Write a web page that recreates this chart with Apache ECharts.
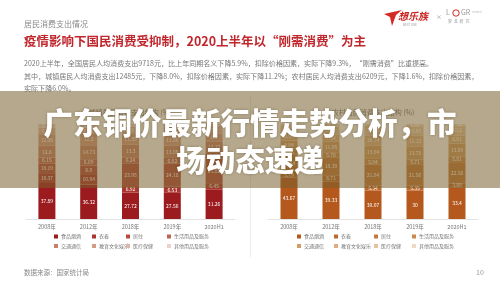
<!DOCTYPE html>
<html><head><meta charset="utf-8">
<script src="https://cdn.jsdelivr.net/npm/echarts@6/dist/echarts.min.js"></script>
<style>html,body{margin:0;padding:0;background:#fff}#c{width:500px;height:281px}</style>
</head><body><div id="c"></div>
<script>
const categories = ['2008年','2012年','2018年','2019年','2020H1'];
const seriesNames = ['食品烟酒','衣着','居住','生活用品及服务','交通通信','教育文化娱乐','医疗保健','其他用品及服务'];
// 城镇居民消费支出结构 (%)
const urbanFood      = [37.89, 36.32, 27.72, 27.56, 31.26];
const urbanClothing  = [10.37, 10.94, 6.92, 6.53, 6.45];
const urbanHousing   = [10.19, 8.9, 23.95, 24.18, 25.82];
const urbanHousehold = [6.15, 6.69, 6.24, 6.02, 5.95];
const urbanTransport = [12.6, 14.73, 13.3, 13.08, 12.17];
const urbanEducation = [12.08, 12.2, 11.39, 11.86, 8.3];
const urbanHealth    = [6.99, 6.38, 7.8, 8.09, 7.9];
const urbanOther     = [3.72, 3.89, 2.68, 2.68, 2.15];
// 农村居民消费支出结构 (%)
const ruralFood      = [43.67, 39.33, 30.07, 30, 33.40];
const ruralClothing  = [5.79, 6.71, 5.34, 5.35, 3.89];
const ruralHousing   = [18.54, 18.39, 21.94, 21.56, 22.56];
const ruralHousehold = [4.75, 5.78, 5.94, 5.71, 5.81];
const ruralTransport = [9.84, 11.05, 13.94, 13.78, 13.69];
const ruralEducation = [8.59, 7.54, 10.74, 11.12, 8.61];
const ruralHealth    = [6.72, 8.70, 10.23, 10.66, 10.2];
const ruralOther     = [2.1, 2.5, 1.8, 1.81, 1.74];

const urbanData = [urbanFood, urbanClothing, urbanHousing, urbanHousehold, urbanTransport, urbanEducation, urbanHealth, urbanOther];
const ruralData = [ruralFood, ruralClothing, ruralHousing, ruralHousehold, ruralTransport, ruralEducation, ruralHealth, ruralOther];
const urbanColors = ['#9b1b1f','#ab3530','#b54c3e','#be6452','#c9806b','#d49b86','#dfb6a5','#ebd3c8'];
const ruralColors = ['#b4581d','#bc692b','#c4793a','#cb8a4c','#d39c64','#dcaf80','#e5c3a0','#eed9c2'];

const FONT = '"Noto Sans CJK SC","Noto Sans",sans-serif';
const chart = echarts.init(document.getElementById('c'), null, {renderer:'canvas'});

const series = [];
function addSeries(dataSets, colors, idx, stack){
  dataSets.forEach((d, i) => {
    series.push({
      type:'bar', name: seriesNames[i], stack: stack, data: d,
      xAxisIndex: idx, yAxisIndex: idx, barWidth: 17,
      itemStyle:{color: colors[i]},
      label:{show:true, position:'inside', color:'#fff', fontSize:5, fontFamily:FONT},
      emphasis:{disabled:true}
    });
  });
}
addSeries(urbanData, urbanColors, 0, 'u');
addSeries(ruralData, ruralColors, 1, 'r');

function legends(colors, xs){
  const out = [];
  for (let c = 0; c < 4; c++){
    out.push({
      orient:'vertical', left: xs[c], top: 234, padding:0,
      itemWidth:4, itemHeight:4, itemGap:4.5, icon:'rect', selectedMode:false,
      textStyle:{fontSize:5, color:'#777', fontFamily:FONT, padding:[0,0,0,-2]},
      data:[{name:seriesNames[c], itemStyle:{color:colors[c]}},
            {name:seriesNames[c+4], itemStyle:{color:colors[c+4]}}]
    });
  }
  return out;
}

const axisCommon = {
  type:'category', data: categories,
  axisLine:{lineStyle:{color:'#e3e3e3'}}, axisTick:{show:false},
  axisLabel:{fontSize:5.5, color:'#777', margin:5, fontFamily:FONT}
};

chart.setOption({
  animation:false,
  textStyle:{fontFamily:FONT},
  title:[
    {text:'居民消费支出情况', left:19, top:15, textStyle:{fontSize:8, color:'#888', fontWeight:'normal', fontFamily:FONT}},
    {text:'疫情影响下国民消费受抑制，2020上半年以“刚需消费”为主', left:19, top:30, textStyle:{fontSize:12.5, color:'#c0272d', fontWeight:'bold', fontFamily:FONT}},
    {text:'2020上半年，全国居民人均消费支出9718元，比上年同期名义下降5.9%，扣除价格因素，实际下降9.3%，“刚需消费”比重提高。', left:19, top:55, textStyle:{fontSize:7.05, color:'#777', fontWeight:'normal', fontFamily:FONT}},
    {text:'其中，城镇居民人均消费支出12485元，下降8.0%，扣除价格因素，实际下降11.2%；农村居民人均消费支出6209元，下降1.6%，扣除价格因素，', left:19, top:67.5, textStyle:{fontSize:7.05, color:'#777', fontWeight:'normal', fontFamily:FONT}},
    {text:'实际下降6.0%。', left:19, top:80, textStyle:{fontSize:7.05, color:'#777', fontWeight:'normal', fontFamily:FONT}},
    {text:'城镇居民消费支出结构 (%)', left:125, textAlign:'center', top:104, textStyle:{fontSize:7, color:'#777', fontWeight:'normal', fontFamily:FONT}},
    {text:'农村居民消费支出结构 (%)', left:368, textAlign:'center', top:104, textStyle:{fontSize:7, color:'#777', fontWeight:'normal', fontFamily:FONT}},
    {text:'数据来源：国家统计局', left:19, top:264, textStyle:{fontSize:6.5, color:'#888', fontWeight:'normal', fontFamily:FONT}},
    {text:'10', left:471, top:264, textStyle:{fontSize:7, color:'#999', fontWeight:'normal', fontFamily:FONT}}
  ],
  legend: legends(urbanColors, [54, 92, 126, 167]).concat(legends(ruralColors, [297, 334, 374, 412])),
  grid:[
    {left:26, width:209, top:124, height:95},
    {left:268, width:210, top:124, height:95}
  ],
  xAxis:[Object.assign({gridIndex:0}, axisCommon), Object.assign({gridIndex:1}, axisCommon)],
  yAxis:[
    {gridIndex:0, type:'value', min:0, max:100, show:false},
    {gridIndex:1, type:'value', min:0, max:100, show:false}
  ],
  series: series,
  graphic:[
    {type:'line', shape:{x1:250.5, y1:97, x2:250.5, y2:257}, style:{stroke:'#ececec', lineWidth:1}, z:1},
    // logo
    {type:'polygon', shape:{points:[[384,14],[402,10],[396,15],[392,26],[390,17]]}, style:{fill:'#d42a22'}, z:5},
    {type:'text', x:398, y:11, style:{text:'想乐族', fontSize:10, fontStyle:'italic', fontWeight:'bold', fill:'#c8231f', fontFamily:FONT}, z:5},
    {type:'text', x:403, y:23, style:{text:'BEST ONE', fontSize:3, fill:'#999', fontFamily:FONT}, z:5},
    {type:'text', x:436, y:14, style:{text:'×', fontSize:6, fill:'#999', fontFamily:FONT}, z:5},
    {type:'text', x:446, y:9, style:{text:'L', fontSize:7, fill:'#999', fontFamily:FONT}, z:5},
    {type:'circle', shape:{cx:456, cy:13, r:3.2}, style:{fill:'none', stroke:'#d42a22', lineWidth:1}, z:5},
    {type:'text', x:461, y:9, style:{text:'GR', fontSize:7, fill:'#999', fontFamily:FONT}, z:5},
    {type:'text', x:472, y:11, style:{text:'research', fontSize:2.5, fill:'#bbb', fontFamily:FONT}, z:5},
    {type:'text', x:448, y:19, style:{text:'罗  戈  研  究', fontSize:4, fill:'#999', fontFamily:FONT}, z:5},
    // overlay band and headline
    {type:'rect', shape:{x:0, y:91, width:500, height:97}, style:{fill:'rgba(120,97,46,0.55)'}, z:100},
    {type:'text', x:250, y:141.5, z:101, style:{
      text:'广东铜价最新行情走势分析，市\n场动态速递', fill:'#fff', fontSize:29.5, fontWeight:900,
      fontFamily:FONT, align:'center', verticalAlign:'middle', lineHeight:37,
      textShadowBlur:3, textShadowColor:'rgba(60,40,10,0.35)'}}
  ]
});
</script></body></html>
